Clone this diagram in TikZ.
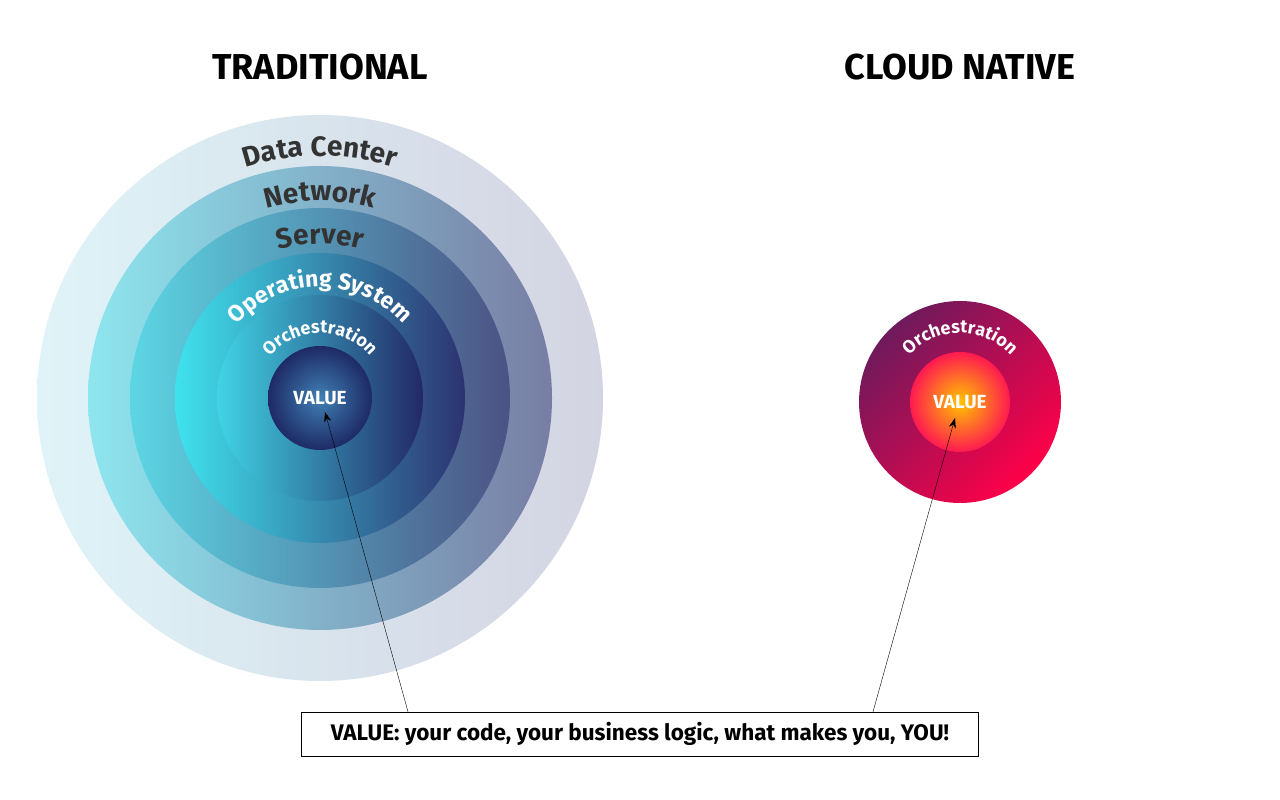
\documentclass[tikz,border=0pt]{standalone}
\usepackage{fontspec}
\setmainfont{Fira Sans}
\usetikzlibrary{arrows.meta,positioning,decorations.text}
\definecolor{dcL}{HTML}{DFF4F8}\definecolor{dcR}{HTML}{D3D4E2}
\definecolor{nwL}{HTML}{8EE6EF}\definecolor{nwR}{HTML}{787DA4}
\definecolor{svL}{HTML}{5CD6E4}\definecolor{svR}{HTML}{4C5284}
\definecolor{osL}{HTML}{3FE2EE}\definecolor{osR}{HTML}{2D3370}
\definecolor{orL}{HTML}{40D4E6}\definecolor{orR}{HTML}{232866}
\definecolor{vaI}{HTML}{3F80B4}\definecolor{vaO}{HTML}{1E2A66}
\definecolor{cnL}{HTML}{6E1A5C}\definecolor{cnR}{HTML}{FF0048}
\definecolor{cvI}{HTML}{FFC400}\definecolor{cvO}{HTML}{FF1A50}
\definecolor{ringtext}{HTML}{333333}
\newcommand{\bigring}{\bfseries\fontsize{28}{30}\selectfont\color{ringtext}}
\newcommand{\osring}{\bfseries\fontsize{23}{26}\selectfont\color{white}}
\newcommand{\orring}{\bfseries\fontsize{18}{20}\selectfont\color{white}}
\tikzset{ring/.style={circle,inner sep=0pt,minimum size=#1},
  title node/.style={font=\bfseries\fontsize{36}{40}\selectfont},
  value node/.style={font=\bfseries\fontsize{19}{22}\selectfont,text=white}}
\begin{document}
\begin{tikzpicture}[x=1pt,y=1pt]
  \useasboundingbox (0,0) rectangle (1280,800);
  % traditional stack
  \node[ring=566pt,left color=dcL,right color=dcR] (dc) at (320,402) {};
  \node[ring=464pt,left color=nwL,right color=nwR] (nw) at (320,402) {};
  \node[ring=380pt,left color=svL,right color=svR] (sv) at (320,402) {};
  \node[ring=290pt,left color=osL,right color=osR] (os) at (320,402) {};
  \node[ring=206pt,left color=orL,right color=orR] (or) at (320,402) {};
  \node[ring=104pt,inner color=vaI,outer color=vaO,value node] (va) at (320,402) {VALUE};
  \path[decorate,decoration={text along path,text align=center,text={|\bigring|Data Center}}]
    (320,402) ++(145:242) arc[start angle=145,end angle=35,radius=242];
  \path[decorate,decoration={text along path,text align=center,text={|\bigring|Network}}]
    (320,402) ++(145:197) arc[start angle=145,end angle=35,radius=197];
  \path[decorate,decoration={text along path,text align=center,text={|\bigring|Server}}]
    (320,402) ++(145:154) arc[start angle=145,end angle=35,radius=154];
  \path[decorate,decoration={text along path,text align=center,text={|\osring|Operating System}}]
    (320,402) ++(165:111) arc[start angle=165,end angle=15,radius=111];
  \path[decorate,decoration={text along path,text align=center,text={|\orring|Orchestration}}]
    (320,402) ++(165:65) arc[start angle=165,end angle=15,radius=65];
  % cloud native stack
  \node[ring=202pt,left color=cnL,right color=cnR,shading angle=45] (cn) at (960,398) {};
  \node[ring=100pt,inner color=cvI,outer color=cvO,value node] (cv) at (960,398) {VALUE};
  \path[decorate,decoration={text along path,text align=center,text={|\orring|Orchestration}}]
    (960,398) ++(160:69) arc[start angle=160,end angle=20,radius=69];
  % titles
  \node[title node] (trad) at (320,733) {TRADITIONAL};
  \node[title node] (cloud) at (960,733) {CLOUD NATIVE};
  % caption
  \node[draw,fill=white,minimum width=677pt,minimum height=44pt,
    font=\bfseries\fontsize{22.5}{26}\selectfont] (cap) at (640,66)
    {VALUE: your code, your business logic, what makes you, YOU!};
  \coordinate (tv) at (325,388);
  \coordinate (cvt) at (955,382);
  \draw[-{Stealth[length=10pt,width=7pt]}] (cap.north -| 408,0) -- (tv);
  \draw[-{Stealth[length=10pt,width=7pt]}] (cap.north -| 873,0) -- (cvt);
\end{tikzpicture}
\end{document}
